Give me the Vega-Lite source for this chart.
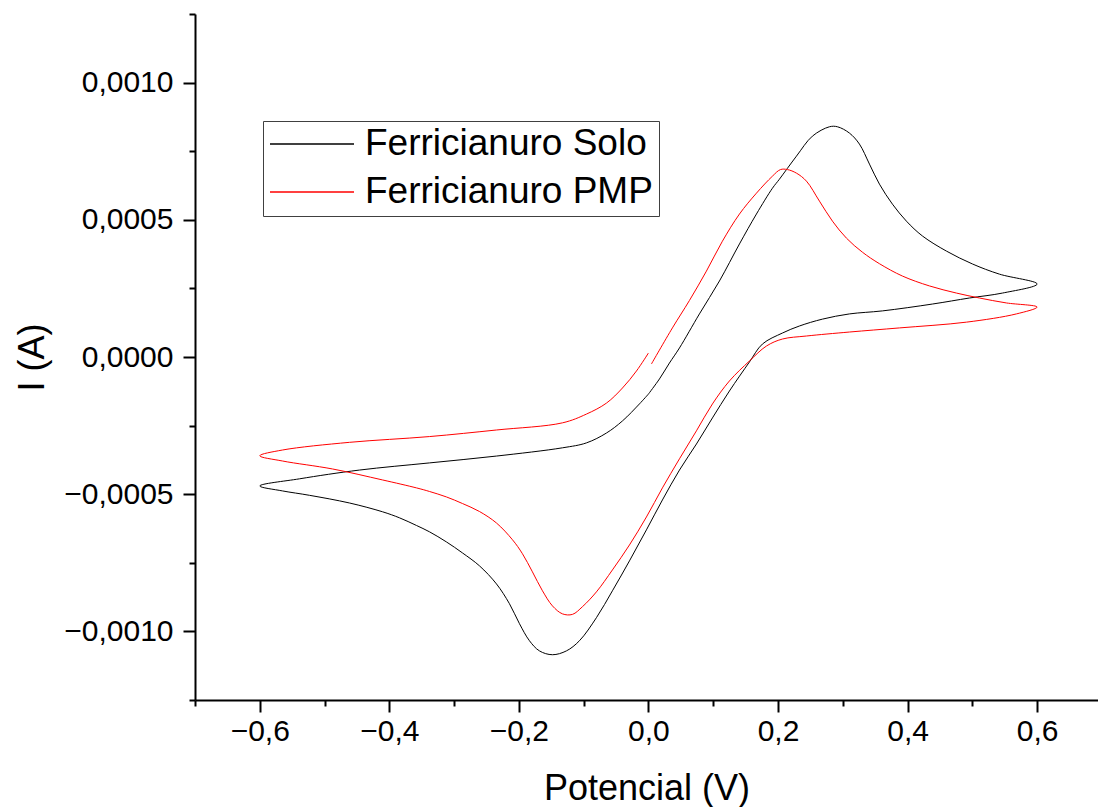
{
  "$schema": "https://vega.github.io/schema/vega-lite/v6.json",
  "width": 903,
  "height": 686,
  "autosize": {"type": "none"},
  "padding": {"left": 195, "top": 14, "right": 0, "bottom": 107},
  "background": "white",
  "config": {
    "view": {"stroke": null},
    "locale": {"number": {"decimal": ",", "thousands": ".", "grouping": [3], "currency": ["", ""]}},
    "font": "Liberation Sans",
    "axis": {
      "domainColor": "black", "domainWidth": 2, "tickColor": "black", "tickWidth": 2,
      "labelFontSize": 30, "labelColor": "black", "labelFont": "Liberation Sans",
      "titleFontSize": 36, "titleFontWeight": "normal", "titleColor": "black", "titleFont": "Liberation Sans",
      "grid": false, "labelFlush": false, "labelOverlap": false
    }
  },
  "data": {"values": [
    {"s":"Ferricianuro Solo","i":1,"v":0.0,"a":-0.000135},
    {"s":"Ferricianuro Solo","i":2,"v":0.017,"a":-0.00008},
    {"s":"Ferricianuro Solo","i":3,"v":0.0324,"a":-0.000022},
    {"s":"Ferricianuro Solo","i":4,"v":0.0479,"a":0.000033},
    {"s":"Ferricianuro Solo","i":5,"v":0.0787,"a":0.000157},
    {"s":"Ferricianuro Solo","i":6,"v":0.1096,"a":0.000277},
    {"s":"Ferricianuro Solo","i":7,"v":0.1405,"a":0.000412},
    {"s":"Ferricianuro Solo","i":8,"v":0.1667,"a":0.000521},
    {"s":"Ferricianuro Solo","i":9,"v":0.1914,"a":0.000615},
    {"s":"Ferricianuro Solo","i":10,"v":0.2022,"a":0.000648},
    {"s":"Ferricianuro Solo","i":11,"v":0.2285,"a":0.000732},
    {"s":"Ferricianuro Solo","i":12,"v":0.2532,"a":0.000805},
    {"s":"Ferricianuro Solo","i":13,"v":0.2794,"a":0.000839},
    {"s":"Ferricianuro Solo","i":14,"v":0.2918,"a":0.000839},
    {"s":"Ferricianuro Solo","i":15,"v":0.3103,"a":0.000816},
    {"s":"Ferricianuro Solo","i":16,"v":0.3257,"a":0.000776},
    {"s":"Ferricianuro Solo","i":17,"v":0.3412,"a":0.000703},
    {"s":"Ferricianuro Solo","i":18,"v":0.3566,"a":0.00063},
    {"s":"Ferricianuro Solo","i":19,"v":0.3767,"a":0.000557},
    {"s":"Ferricianuro Solo","i":20,"v":0.3983,"a":0.000495},
    {"s":"Ferricianuro Solo","i":21,"v":0.423,"a":0.000441},
    {"s":"Ferricianuro Solo","i":22,"v":0.46,"a":0.000386},
    {"s":"Ferricianuro Solo","i":23,"v":0.5002,"a":0.000339},
    {"s":"Ferricianuro Solo","i":24,"v":0.5418,"a":0.000302},
    {"s":"Ferricianuro Solo","i":25,"v":0.6,"a":0.000266},
    {"s":"Ferricianuro Solo","i":26,"v":0.5465,"a":0.000233},
    {"s":"Ferricianuro Solo","i":27,"v":0.4955,"a":0.000215},
    {"s":"Ferricianuro Solo","i":28,"v":0.4384,"a":0.000193},
    {"s":"Ferricianuro Solo","i":29,"v":0.3612,"a":0.000168},
    {"s":"Ferricianuro Solo","i":30,"v":0.3103,"a":0.000157},
    {"s":"Ferricianuro Solo","i":31,"v":0.2686,"a":0.000138},
    {"s":"Ferricianuro Solo","i":32,"v":0.2331,"a":0.000113},
    {"s":"Ferricianuro Solo","i":33,"v":0.2069,"a":0.0000874},
    {"s":"Ferricianuro Solo","i":34,"v":0.176,"a":0.0000473},
    {"s":"Ferricianuro Solo","i":35,"v":0.1559,"a":-0.0000182},
    {"s":"Ferricianuro Solo","i":36,"v":0.125,"a":-0.000124},
    {"s":"Ferricianuro Solo","i":37,"v":0.0988,"a":-0.000222},
    {"s":"Ferricianuro Solo","i":38,"v":0.0741,"a":-0.000317},
    {"s":"Ferricianuro Solo","i":39,"v":0.0479,"a":-0.000412},
    {"s":"Ferricianuro Solo","i":40,"v":0.0216,"a":-0.000521},
    {"s":"Ferricianuro Solo","i":41,"v":-0.0031,"a":-0.00063},
    {"s":"Ferricianuro Solo","i":42,"v":-0.0293,"a":-0.000743},
    {"s":"Ferricianuro Solo","i":43,"v":-0.0556,"a":-0.000852},
    {"s":"Ferricianuro Solo","i":44,"v":-0.0803,"a":-0.00095},
    {"s":"Ferricianuro Solo","i":45,"v":-0.1065,"a":-0.001034},
    {"s":"Ferricianuro Solo","i":46,"v":-0.1266,"a":-0.001071},
    {"s":"Ferricianuro Solo","i":47,"v":-0.1482,"a":-0.001085},
    {"s":"Ferricianuro Solo","i":48,"v":-0.1683,"a":-0.001071},
    {"s":"Ferricianuro Solo","i":49,"v":-0.1837,"a":-0.001034},
    {"s":"Ferricianuro Solo","i":50,"v":-0.1991,"a":-0.000972},
    {"s":"Ferricianuro Solo","i":51,"v":-0.2146,"a":-0.000899},
    {"s":"Ferricianuro Solo","i":52,"v":-0.2346,"a":-0.000827},
    {"s":"Ferricianuro Solo","i":53,"v":-0.2609,"a":-0.000761},
    {"s":"Ferricianuro Solo","i":54,"v":-0.2871,"a":-0.000714},
    {"s":"Ferricianuro Solo","i":55,"v":-0.3118,"a":-0.000674},
    {"s":"Ferricianuro Solo","i":56,"v":-0.3381,"a":-0.000637},
    {"s":"Ferricianuro Solo","i":57,"v":-0.3581,"a":-0.000614},
    {"s":"Ferricianuro Solo","i":58,"v":-0.3844,"a":-0.000586},
    {"s":"Ferricianuro Solo","i":59,"v":-0.4106,"a":-0.000564},
    {"s":"Ferricianuro Solo","i":60,"v":-0.4616,"a":-0.000532},
    {"s":"Ferricianuro Solo","i":61,"v":-0.5233,"a":-0.000504},
    {"s":"Ferricianuro Solo","i":62,"v":-0.565,"a":-0.000488},
    {"s":"Ferricianuro Solo","i":63,"v":-0.6,"a":-0.00047},
    {"s":"Ferricianuro Solo","i":64,"v":-0.5388,"a":-0.000444},
    {"s":"Ferricianuro Solo","i":65,"v":-0.4461,"a":-0.000412},
    {"s":"Ferricianuro Solo","i":66,"v":-0.3381,"a":-0.000386},
    {"s":"Ferricianuro Solo","i":67,"v":-0.2346,"a":-0.000361},
    {"s":"Ferricianuro Solo","i":68,"v":-0.1328,"a":-0.000331},
    {"s":"Ferricianuro Solo","i":69,"v":-0.0957,"a":-0.000313},
    {"s":"Ferricianuro Solo","i":70,"v":-0.0648,"a":-0.000277},
    {"s":"Ferricianuro Solo","i":71,"v":-0.0401,"a":-0.000233},
    {"s":"Ferricianuro Solo","i":72,"v":-0.0139,"a":-0.000171},
    {"s":"Ferricianuro Solo","i":73,"v":0.0,"a":-0.000135},
    {"s":"Ferricianuro PMP","i":1,"v":0.0046,"a":-0.0000255},
    {"s":"Ferricianuro PMP","i":2,"v":0.037,"a":0.000106},
    {"s":"Ferricianuro PMP","i":3,"v":0.0633,"a":0.000206},
    {"s":"Ferricianuro PMP","i":4,"v":0.0895,"a":0.000313},
    {"s":"Ferricianuro PMP","i":5,"v":0.1142,"a":0.000422},
    {"s":"Ferricianuro PMP","i":6,"v":0.1405,"a":0.000521},
    {"s":"Ferricianuro PMP","i":7,"v":0.1667,"a":0.000597},
    {"s":"Ferricianuro PMP","i":8,"v":0.1914,"a":0.000659},
    {"s":"Ferricianuro PMP","i":9,"v":0.2038,"a":0.000683},
    {"s":"Ferricianuro PMP","i":10,"v":0.2146,"a":0.000683},
    {"s":"Ferricianuro PMP","i":11,"v":0.2285,"a":0.00067},
    {"s":"Ferricianuro PMP","i":12,"v":0.2439,"a":0.000641},
    {"s":"Ferricianuro PMP","i":13,"v":0.264,"a":0.000568},
    {"s":"Ferricianuro PMP","i":14,"v":0.2841,"a":0.000495},
    {"s":"Ferricianuro PMP","i":15,"v":0.3057,"a":0.000433},
    {"s":"Ferricianuro PMP","i":16,"v":0.3303,"a":0.000382},
    {"s":"Ferricianuro PMP","i":17,"v":0.3566,"a":0.00034},
    {"s":"Ferricianuro PMP","i":18,"v":0.3921,"a":0.000295},
    {"s":"Ferricianuro PMP","i":19,"v":0.4338,"a":0.000259},
    {"s":"Ferricianuro PMP","i":20,"v":0.4755,"a":0.000233},
    {"s":"Ferricianuro PMP","i":21,"v":0.511,"a":0.000215},
    {"s":"Ferricianuro PMP","i":22,"v":0.5526,"a":0.000197},
    {"s":"Ferricianuro PMP","i":23,"v":0.6,"a":0.000182},
    {"s":"Ferricianuro PMP","i":24,"v":0.568,"a":0.000157},
    {"s":"Ferricianuro PMP","i":25,"v":0.4909,"a":0.000127},
    {"s":"Ferricianuro PMP","i":26,"v":0.3875,"a":0.000106},
    {"s":"Ferricianuro PMP","i":27,"v":0.3103,"a":0.000091},
    {"s":"Ferricianuro PMP","i":28,"v":0.2439,"a":0.0000765},
    {"s":"Ferricianuro PMP","i":29,"v":0.2069,"a":0.0000655},
    {"s":"Ferricianuro PMP","i":30,"v":0.1822,"a":0.00004},
    {"s":"Ferricianuro PMP","i":31,"v":0.1559,"a":-0.0000146},
    {"s":"Ferricianuro PMP","i":32,"v":0.125,"a":-0.0000874},
    {"s":"Ferricianuro PMP","i":33,"v":0.0988,"a":-0.000171},
    {"s":"Ferricianuro PMP","i":34,"v":0.0741,"a":-0.000269},
    {"s":"Ferricianuro PMP","i":35,"v":0.0479,"a":-0.000371},
    {"s":"Ferricianuro PMP","i":36,"v":0.0216,"a":-0.000477},
    {"s":"Ferricianuro PMP","i":37,"v":-0.0031,"a":-0.000583},
    {"s":"Ferricianuro PMP","i":38,"v":-0.0293,"a":-0.000685},
    {"s":"Ferricianuro PMP","i":39,"v":-0.0556,"a":-0.000776},
    {"s":"Ferricianuro PMP","i":40,"v":-0.0803,"a":-0.000856},
    {"s":"Ferricianuro PMP","i":41,"v":-0.1019,"a":-0.00091},
    {"s":"Ferricianuro PMP","i":42,"v":-0.1173,"a":-0.000938},
    {"s":"Ferricianuro PMP","i":43,"v":-0.1328,"a":-0.000936},
    {"s":"Ferricianuro PMP","i":44,"v":-0.1482,"a":-0.000907},
    {"s":"Ferricianuro PMP","i":45,"v":-0.1636,"a":-0.000852},
    {"s":"Ferricianuro PMP","i":46,"v":-0.1791,"a":-0.000783},
    {"s":"Ferricianuro PMP","i":47,"v":-0.1945,"a":-0.000717},
    {"s":"Ferricianuro PMP","i":48,"v":-0.2099,"a":-0.000666},
    {"s":"Ferricianuro PMP","i":49,"v":-0.2346,"a":-0.000605},
    {"s":"Ferricianuro PMP","i":50,"v":-0.2609,"a":-0.000563},
    {"s":"Ferricianuro PMP","i":51,"v":-0.2871,"a":-0.000534},
    {"s":"Ferricianuro PMP","i":52,"v":-0.3118,"a":-0.00051},
    {"s":"Ferricianuro PMP","i":53,"v":-0.3381,"a":-0.00049},
    {"s":"Ferricianuro PMP","i":54,"v":-0.3581,"a":-0.000477},
    {"s":"Ferricianuro PMP","i":55,"v":-0.4106,"a":-0.000448},
    {"s":"Ferricianuro PMP","i":56,"v":-0.4878,"a":-0.000408},
    {"s":"Ferricianuro PMP","i":57,"v":-0.565,"a":-0.000379},
    {"s":"Ferricianuro PMP","i":58,"v":-0.6,"a":-0.00036},
    {"s":"Ferricianuro PMP","i":59,"v":-0.565,"a":-0.000339},
    {"s":"Ferricianuro PMP","i":60,"v":-0.4616,"a":-0.000311},
    {"s":"Ferricianuro PMP","i":61,"v":-0.3381,"a":-0.00029},
    {"s":"Ferricianuro PMP","i":62,"v":-0.2346,"a":-0.000266},
    {"s":"Ferricianuro PMP","i":63,"v":-0.1328,"a":-0.00024},
    {"s":"Ferricianuro PMP","i":64,"v":-0.0957,"a":-0.000208},
    {"s":"Ferricianuro PMP","i":65,"v":-0.0648,"a":-0.000168},
    {"s":"Ferricianuro PMP","i":66,"v":-0.0401,"a":-0.000113},
    {"s":"Ferricianuro PMP","i":67,"v":-0.0185,"a":-0.000051},
    {"s":"Ferricianuro PMP","i":68,"v":0.0,"a":0.0000146}
  ]},
  "layer": [
    {
      "mark": {"type": "line", "strokeWidth": 1, "interpolate": "catmull-rom"},
      "encoding": {
        "x": {"field": "v", "type": "quantitative",
              "scale": {"domain": [-0.7, 0.694], "nice": false, "zero": false},
              "axis": {"orient": "bottom", "values": [-0.6, -0.4, -0.2, 0, 0.2, 0.4, 0.6], "format": ".1f",
                       "title": "Potencial (V)", "tickSize": 12, "labelPadding": 4, "titlePadding": 25}},
        "y": {"field": "a", "type": "quantitative",
              "scale": {"domain": [-0.00125, 0.00125], "nice": false, "zero": false},
              "axis": {"orient": "left", "values": [-0.001, -0.0005, 0, 0.0005, 0.001], "format": ".4f",
                       "title": "I (A)", "tickSize": 12, "labelPadding": 10, "titlePadding": 12}},
        "color": {"field": "s", "type": "nominal",
                  "scale": {"domain": ["Ferricianuro Solo", "Ferricianuro PMP"], "range": ["#000000", "#ff0000"]},
                  "legend": {"orient": "none", "legendX": 68, "legendY": 107, "title": null,
                             "symbolType": "stroke", "symbolSize": 7056, "symbolStrokeWidth": 1.5,
                             "labelFontSize": 37, "labelFont": "Liberation Sans", "labelColor": "black",
                             "strokeColor": "#404040", "fillColor": "white", "padding": 6,
                             "clipHeight": 34, "rowPadding": 11, "labelOffset": 10, "labelLimit": 0}},
        "order": {"field": "i", "type": "quantitative"}
      }
    },
    {
      "mark": {"type": "line", "opacity": 0},
      "encoding": {
        "x": {"field": "v", "type": "quantitative",
              "axis": {"orient": "bottom", "values": [-0.7, -0.5, -0.3, -0.1, 0.1, 0.3, 0.5],
                       "labels": false, "domain": false, "tickSize": 6, "title": null}},
        "y": {"field": "a", "type": "quantitative",
              "axis": {"orient": "left", "values": [-0.00125, -0.00075, -0.00025, 0.00025, 0.00075, 0.00125],
                       "labels": false, "domain": false, "tickSize": 6, "title": null}},
        "detail": {"field": "s", "type": "nominal"},
        "order": {"field": "i", "type": "quantitative"}
      }
    }
  ],
  "resolve": {"axis": {"x": "independent", "y": "independent"}}
}
